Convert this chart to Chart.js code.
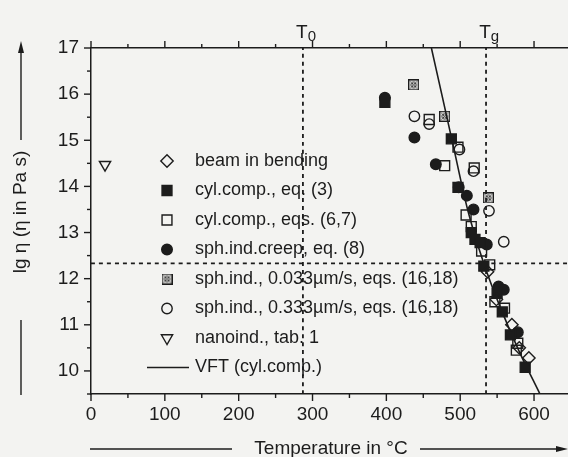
<!DOCTYPE html>
<html>
<head>
<meta charset="utf-8">
<script src="https://cdn.jsdelivr.net/npm/chart.js@4.4.1/dist/chart.umd.min.js"></script>
<style>
  html, body { margin: 0; padding: 0; background: #f3f3f1; }
  #wrap { width: 568px; height: 457px; }
  canvas { display: block; }
</style>
</head>
<body>
<div id="wrap"><canvas id="chart" width="568" height="457"></canvas></div>
<script>
// [temperature in °C, lg eta]
const beamBending = [[537, 12.15], [549, 11.55], [570, 11.0], [580, 10.5], [593, 10.28]]
const cylCompEq3 = [[398, 15.82], [488, 15.03], [497, 13.98], [515, 13.0], [520, 12.85], [527, 12.78],
  [532, 12.27], [550, 11.68], [557, 11.28], [568, 10.78], [588, 10.08]]
const cylCompEqs67 = [[458, 15.45], [479, 14.45], [497, 14.85], [519, 14.4], [508, 13.38], [515, 13.13],
  [529, 12.6], [540, 12.3], [547, 11.5], [560, 11.36], [578, 10.6], [576, 10.45]]
const sphIndCreep = [[398, 15.92], [438, 15.06], [467, 14.48], [498, 13.98], [509, 13.8], [518, 13.5],
  [536, 12.74], [552, 11.83], [559, 11.76], [578, 10.84]]
const sphInd033 = [[437, 16.2], [479, 15.52], [538, 13.75]]
const sphInd333 = [[438, 15.52], [458, 15.35], [499, 14.8], [518, 14.33], [539, 13.47], [559, 12.8]]
const nanoind = [[19, 14.47]]
const vftCylComp = [[461, 17.0], [475, 16.0], [491, 14.85], [510, 13.5], [532, 12.33], [555, 11.35], [580, 10.42], [608, 9.5]]

const T0 = 287
const Tg = 535
const lgEtaTg = 12.33

const xMin = 0, xMax = 646
const yMin = 9.5, yMax = 17

const legendLabels = [
  'beam in bending',
  'cyl.comp., eq. (3)',
  'cyl.comp., eqs. (6,7)',
  'sph.ind.creep, eq. (8)',
  'sph.ind., 0.033µm/s, eqs. (16,18)',
  'sph.ind., 0.333µm/s, eqs. (16,18)',
  'nanoind., tab. 1',
  'VFT (cyl.comp.)',
]

const ink = '#1c1c1c'
const family = '"Liberation Sans", Arial, Helvetica, sans-serif'

function crossedSquare(size) {
  const c = document.createElement('canvas')
  c.width = c.height = size
  const g = c.getContext('2d')
  g.strokeStyle = ink
  g.lineWidth = 1.3
  g.strokeRect(0.65, 0.65, size - 1.3, size - 1.3)
  g.lineWidth = 1
  g.beginPath()
  g.moveTo(2.5, 2.5); g.lineTo(size - 2.5, size - 2.5)
  g.moveTo(size - 2.5, 2.5); g.lineTo(2.5, size - 2.5)
  g.stroke()
  g.beginPath()
  g.arc(size / 2, size / 2, size / 2 - 2.8, 0, Math.PI * 2)
  g.stroke()
  return c
}

const toXY = pts => pts.map(([x, y]) => ({ x, y }))

function markers(label, pts, style, filled, radius, rotation = 0) {
  return {
    label,
    data: toXY(pts),
    showLine: false,
    pointStyle: style,
    pointRadius: radius,
    pointRotation: rotation,
    pointBackgroundColor: filled ? ink : 'transparent',
    pointBorderColor: ink,
    pointBorderWidth: 1.4,
  }
}

function refLine(pts, dash) {
  return {
    data: toXY(pts),
    showLine: true,
    borderColor: ink,
    borderWidth: dash ? 1.8 : 1.6,
    borderDash: dash || [],
    pointRadius: 0,
    tension: 0.3,
    fill: false,
  }
}

const crossImg = crossedSquare(11)

const datasets = [
  markers(legendLabels[0], beamBending, 'rectRot', false, 6.2),
  markers(legendLabels[1], cylCompEq3, 'rect', true, 7),
  markers(legendLabels[2], cylCompEqs67, 'rect', false, 7),
  markers(legendLabels[3], sphIndCreep, 'circle', true, 5.3),
  markers(legendLabels[4], sphInd033, crossImg, false, 5.5),
  markers(legendLabels[5], sphInd333, 'circle', false, 5.2),
  markers(legendLabels[6], nanoind, 'triangle', false, 6.5, 180),
  refLine(vftCylComp),
  refLine([[xMin, lgEtaTg], [xMax, lgEtaTg]], [4, 4]),
  refLine([[T0, yMin], [T0, yMax]], [4, 4]),
  refLine([[Tg, yMin], [Tg, yMax]], [4, 4]),
]

const background = {
  id: 'background',
  beforeDraw(chart) {
    const { ctx, width, height } = chart
    ctx.save()
    ctx.fillStyle = '#f3f3f1'
    ctx.fillRect(0, 0, width, height)
    ctx.restore()
  },
}

const decorations = {
  id: 'decorations',
  afterDraw(chart) {
    const { ctx, chartArea: a, scales } = chart
    ctx.save()
    ctx.strokeStyle = ink
    ctx.fillStyle = ink
    ctx.lineWidth = 1.4

    const seg = (x1, y1, x2, y2) => {
      ctx.beginPath(); ctx.moveTo(x1, y1); ctx.lineTo(x2, y2); ctx.stroke()
    }

    // tick marks, major longer than minor
    for (const t of scales.x.ticks) {
      const px = scales.x.getPixelForValue(t.value)
      seg(px, a.bottom, px, a.bottom + (t.value % 100 === 0 ? 7 : 4))
    }
    for (const t of scales.xTop.ticks) {
      const px = scales.xTop.getPixelForValue(t.value)
      seg(px, a.top, px, a.top - (t.value % 100 === 0 ? 7 : 4))
    }
    for (const t of scales.y.ticks) {
      const py = scales.y.getPixelForValue(t.value)
      seg(a.left, py, a.left - (Number.isInteger(t.value) ? 7 : 4), py)
    }

    // T0 / Tg labels above the top axis
    const sub = (main, low, value) => {
      const px = scales.xTop.getPixelForValue(value)
      ctx.font = `19px ${family}`
      ctx.textBaseline = 'alphabetic'
      ctx.textAlign = 'left'
      const w = ctx.measureText(main).width
      ctx.fillText(main, px - w / 2 - 1, 38)
      ctx.font = `15px ${family}`
      ctx.fillText(low, px + w / 2 - 1, 41)
    }
    sub('T', '0', T0)
    sub('T', 'g', Tg)

    // axis titles with arrows
    ctx.font = `19px ${family}`
    ctx.textAlign = 'center'
    ctx.textBaseline = 'middle'
    ctx.save()
    ctx.translate(21, 212)
    ctx.rotate(-Math.PI / 2)
    ctx.fillText('lg η (η in Pa s)', 0, 0)
    ctx.restore()
    seg(21, 395, 21, 320)
    seg(21, 140, 21, 50)
    ctx.beginPath(); ctx.moveTo(21, 41); ctx.lineTo(24, 53); ctx.lineTo(18, 53); ctx.closePath(); ctx.fill()

    ctx.fillText('Temperature in °C', 331, 449)
    seg(90, 449, 232, 449)
    seg(420, 449, 558, 449)
    ctx.beginPath(); ctx.moveTo(568, 449); ctx.lineTo(556, 446); ctx.lineTo(556, 452); ctx.closePath(); ctx.fill()

    // legend
    const rowY = 161, gap = 29.5, markX = 167, textX = 195
    ctx.font = `18px ${family}`
    ctx.textAlign = 'left'
    ctx.textBaseline = 'middle'
    legendLabels.forEach((label, i) => {
      const y = rowY + i * gap
      const ds = chart.data.datasets[i]
      if (ds.showLine) {
        ctx.lineWidth = 1.6
        seg(147, y, 189, y)
      } else {
        ctx.fillStyle = ds.pointBackgroundColor
        ctx.strokeStyle = ink
        ctx.lineWidth = ds.pointBorderWidth
        Chart.helpers.drawPoint(ctx, {
          pointStyle: ds.pointStyle,
          rotation: ds.pointRotation,
          radius: ds.pointRadius,
          borderWidth: ds.pointBorderWidth,
        }, markX, y)
      }
      ctx.fillStyle = ink
      ctx.fillText(label, textX, y)
    })
    ctx.restore()
  },
}

const tickFont = { family, size: 19 }

// keep the plot box fixed: 91..568 by 48..394
function pinX(height) {
  return s => {
    s.height = height
    s.paddingLeft = 0
    s.paddingRight = 0
  }
}

new Chart(document.getElementById('chart'), {
  type: 'scatter',
  data: { datasets },
  options: {
    responsive: false,
    animation: false,
    devicePixelRatio: 1,
    events: [],
    layout: { padding: 0, autoPadding: false },
    plugins: { legend: { display: false }, tooltip: { enabled: false } },
    scales: {
      x: {
        type: 'linear', position: 'bottom', min: xMin, max: xMax,
        grid: { display: false, drawTicks: false },
        border: { display: true, color: ink, width: 1.5 },
        ticks: {
          stepSize: 50, includeBounds: false, padding: 9, color: ink, font: tickFont,
          autoSkip: false, maxRotation: 0,
          callback: v => (v % 100 === 0 ? String(v) : ''),
        },
        afterFit: pinX(63),
      },
      xTop: {
        type: 'linear', position: 'top', min: xMin, max: xMax,
        grid: { display: false, drawTicks: false },
        border: { display: true, color: ink, width: 1.5 },
        ticks: { display: false, stepSize: 50, includeBounds: false },
        afterFit: pinX(48),
      },
      y: {
        type: 'linear', position: 'left', min: yMin, max: yMax,
        grid: { display: false, drawTicks: false },
        border: { display: true, color: ink, width: 1.5 },
        ticks: {
          stepSize: 0.5, includeBounds: false, padding: 12, color: ink, font: tickFont,
          autoSkip: false,
          callback: v => (Number.isInteger(v) ? String(v) : ''),
        },
        afterFit: s => {
          s.width = 91
          s.paddingTop = 0
          s.paddingBottom = 0
        },
      },
    },
  },
  plugins: [background, decorations],
})
</script>
</body>
</html>
